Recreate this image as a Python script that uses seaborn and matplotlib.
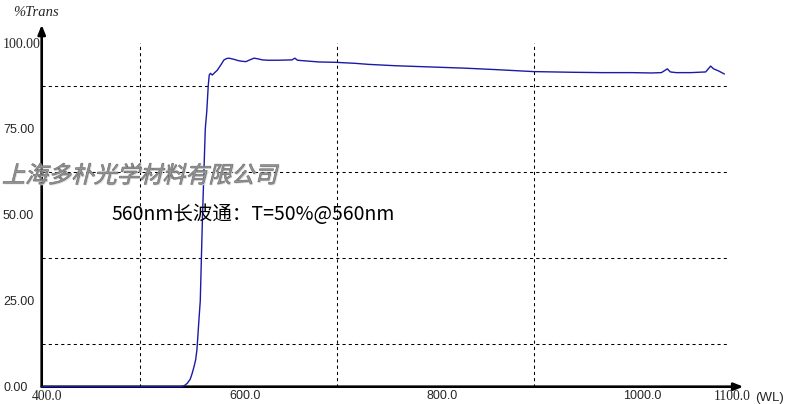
import numpy as np
import pandas as pd
import matplotlib
matplotlib.use("Agg")
import matplotlib.pyplot as plt
import seaborn as sns
from matplotlib.patheffects import AbstractPathEffect
from matplotlib.transforms import Affine2D, ScaledTranslation
from matplotlib.colors import to_rgba

# ---- data ----
wavelength = [400, 541.7, 545, 548, 551, 553, 555, 556.5, 557.7, 558.5, 559.5, 561.2,
              563.5, 566.3, 567.8, 569.3, 570.3, 571.5, 573.4, 575.5, 578.5, 582,
              585.3, 588, 590.4, 595, 599.7, 603.5, 607.6, 611.5, 615.9, 620, 624.3,
              630, 640, 654.4, 657.4, 660, 681.7, 698.5, 718.8, 732.2, 760, 800, 830,
              860, 900, 940, 970, 1000, 1020, 1030, 1036, 1039, 1045, 1060, 1075,
              1080, 1083, 1088, 1094]
transmission = [0, 0, 0.3, 1.0, 2.2, 3.9, 6.0, 7.8, 10.5, 13.6, 18, 25,
                50, 75, 80, 87.5, 90.6, 91.1, 90.6, 91.2, 92.0, 93.5,
                95.0, 95.4, 95.5, 95.2, 94.8, 94.6, 94.5, 95.0, 95.5, 95.3, 95.0,
                94.9, 94.9, 95.0, 95.5, 94.9, 94.4, 94.3, 94.0, 93.7, 93.3, 92.9, 92.6,
                92.2, 91.6, 91.4, 91.3, 91.3, 91.2, 91.3, 92.4, 91.5, 91.3, 91.3, 91.5,
                93.2, 92.4, 91.8, 90.9]
x_ticks = [400, 600, 800, 1000, 1100]
x_tick_labels = ["400.0", "600.0", "800.0", "1000.0", "1100.0"]
y_ticks = [0, 25, 50, 75, 100]
y_tick_labels = ["0.00", "25.00", "50.00", "75.00", "100.00"]
x_grid = [500, 600, 700, 800, 900, 1000]
y_grid = [12.5, 37.5, 62.5, 87.5]
y_label = "%Trans"
x_unit = "(WL)"
watermark = "上海多朴光学材料有限公司"
note = "560nm长波通：T=50%@560nm"

df = pd.DataFrame({"wl": wavelength, "T": transmission})

sns.set_style("white")
plt.rcParams["font.family"] = ["Liberation Sans", "Noto Sans CJK SC", "DejaVu Sans"]

W, H = 792, 404
fig = plt.figure(figsize=(W / 100, H / 100), dpi=100)
x0, x1 = 41.7, 730.3
y0, y1 = 386.7, 42.7
ax = fig.add_axes([x0 / W, 1 - y0 / H, (x1 - x0) / W, (y0 - y1) / H])
ax.set_xlim(400, 1100)
ax.set_ylim(0, 100)
for s in ax.spines.values():
    s.set_visible(False)

# grid via minor ticks
ax.set_xticks(x_grid, minor=True)
ax.set_yticks(y_grid, minor=True)
ax.grid(True, which="minor", color="black", lw=0.75, linestyle=(0, (3, 3)))
ax.grid(False, which="major")
ax.tick_params(which="both", length=0)

# axes with arrows
arrow_kw = dict(arrowstyle="-|>,head_length=0.55,head_width=0.22",
                lw=1.9, color="black", mutation_scale=10, shrinkA=0, shrinkB=0)
ax.annotate("", xy=(1.019, 0), xytext=(0, 0), xycoords="axes fraction",
            arrowprops=arrow_kw, annotation_clip=False, zorder=3)
ax.annotate("", xy=(0, 1.052), xytext=(0, 0), xycoords="axes fraction",
            arrowprops=arrow_kw, annotation_clip=False, zorder=3)

sns.lineplot(data=df, x="wl", y="T", ax=ax, color="#1a1aa8", lw=1.0,
             zorder=5, clip_on=False)
ax.set_xlabel("")
ax.set_ylabel("")

# tick labels
ax.set_xticks(x_ticks)
ax.set_xticklabels(x_tick_labels)
ax.set_yticks(y_ticks)
ax.set_yticklabels(y_tick_labels)
ax.tick_params(axis="x", pad=2.5)
ax.tick_params(axis="y", pad=(x0 - 3) * 0.72)
serif_x = {"400.0": -10, "1100.0": -16}
for lab in ax.get_xticklabels():
    t = lab.get_text()
    lab.set_horizontalalignment("left")
    if t in serif_x:
        lab.set_family("Liberation Serif")
        lab.set_fontsize(9.8)
        off = serif_x[t]
    else:
        lab.set_fontsize(9)
        off = -9
    lab.set_transform(lab.get_transform() + ScaledTranslation(off / 100, 0, fig.dpi_scale_trans))
for lab in ax.get_yticklabels():
    lab.set_horizontalalignment("left")
    if lab.get_text() == "100.00":
        lab.set_family("Liberation Serif")
        lab.set_fontsize(10)
    else:
        lab.set_fontsize(9)

fig.text(755 / W, 1 - 397.5 / H, x_unit, fontsize=9.5, ha="left", va="center")
fig.text(13 / W, 1 - 12 / H, y_label, fontsize=10.5, family="Liberation Serif",
         style="italic", ha="left", va="center")


class SkewText(AbstractPathEffect):
    def __init__(self, deg=14, color="#979797", edge="#6e6e6e", shadow=(0.8, -0.8),
                 shadow_color="#dadada"):
        super().__init__()
        self.deg = deg
        self.color = to_rgba(color)
        self.edge = edge
        self.shadow = shadow
        self.shadow_color = to_rgba(shadow_color)

    def draw_path(self, renderer, gc, tpath, affine, rgbFace=None):
        base = Affine2D().skew_deg(self.deg, 0) + affine
        px = renderer.points_to_pixels(1.0)
        g = renderer.new_gc()
        g.copy_properties(gc)
        g.set_linewidth(0)
        renderer.draw_path(g, tpath,
                           base + Affine2D().translate(self.shadow[0] * px, self.shadow[1] * px),
                           self.shadow_color)
        g2 = renderer.new_gc()
        g2.copy_properties(gc)
        g2.set_linewidth(0.5)
        g2.set_foreground(self.edge)
        renderer.draw_path(g2, tpath, base, self.color)
        g.restore()
        g2.restore()


fig.text(2 / W, 1 - 176 / H, watermark, fontsize=16.5, family=["Noto Sans CJK SC"],
         weight="medium", color="#979797", ha="left", va="center",
         path_effects=[SkewText()])

fig.text(112 / W, 1 - 214 / H, note, fontsize=14, family=["Noto Sans CJK SC", "DejaVu Sans"],
         ha="left", va="center", color="black", zorder=6)

fig.savefig("out.png", dpi=100)
